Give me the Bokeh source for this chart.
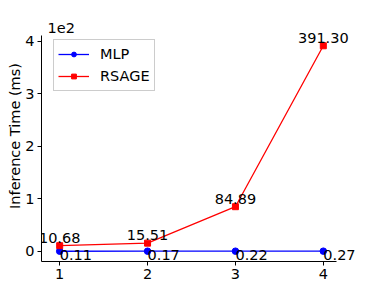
from bokeh.plotting import figure
from bokeh.models import Range1d, FixedTicker, Legend, LegendItem, ColumnDataSource, LabelSet
from bokeh.core.properties import value
from bokeh.embed import file_html
from bokeh.resources import INLINE

x_vals = [1, 2, 3, 4]
mlp = [0.11, 0.17, 0.22, 0.27]
rsage = [10.68, 15.51, 84.89, 391.30]
y_ticks = [0, 100, 200, 300, 400]
y_tick_labels = ["0", "1", "2", "3", "4"]

FONT = "DejaVu Sans"
FS = "14.5px"

# visible axes limits (matplotlib-like 5% margins)
X0, X1 = 0.85, 4.15
Y0, Y1 = -19.45, 410.86
PX_X = 290 / (X1 - X0)
PX_Y = 226 / (Y1 - Y0)
# extended plotting frame so that value labels beyond the axes are not clipped
EXT_L, EXT_R, EXT_T = 5, 34, 25
FW = 290 + EXT_L + EXT_R
FH = 226 + EXT_T
X0E = X0 - EXT_L / PX_X
X1E = X1 + EXT_R / PX_X
Y1E = Y1 + EXT_T / PX_Y

p = figure(frame_width=FW, frame_height=FH, output_backend="svg", toolbar_location=None,
           x_range=Range1d(X0E, X1E), y_range=Range1d(Y0, Y1E),
           min_border_left=41, min_border_right=0, min_border_top=10, min_border_bottom=29)
p.outline_line_color = None
p.grid.visible = False
p.background_fill_color = "white"

for ax in (p.xaxis, p.yaxis):
    ax.axis_line_color = "black"
    ax.major_tick_line_color = "black"
    ax.minor_tick_line_color = None
    ax.major_tick_out = 4
    ax.major_tick_in = 0
    ax.major_label_text_font = FONT
    ax.major_label_text_font_size = FS
    ax.major_label_text_color = "black"
    ax.major_label_standoff = 3

p.xaxis.bounds = (X0E, X1)
p.yaxis.bounds = (Y0, Y1)
p.xaxis.ticker = FixedTicker(ticks=x_vals)
p.yaxis.ticker = FixedTicker(ticks=y_ticks)
p.yaxis.major_label_overrides = {t: l for t, l in zip(y_ticks, y_tick_labels)}
p.yaxis.axis_label = "Inference Time (ms)"
p.yaxis.axis_label_text_font = FONT
p.yaxis.axis_label_text_font_size = FS
p.yaxis.axis_label_text_font_style = "normal"
p.yaxis.axis_label_text_color = "black"
p.yaxis.axis_label_standoff = -1

l1 = p.line(x_vals, mlp, line_color="blue", line_width=1.3)
m1 = p.scatter(x_vals, mlp, marker="circle", size=6.5, fill_color="blue", line_color="blue")
l2 = p.line(x_vals, rsage, line_color="red", line_width=1.3)
m2 = p.scatter(x_vals, rsage, marker="square", size=6, fill_color="red", line_color="red")

src_m = ColumnDataSource(dict(x=x_vals, y=mlp, t=[f"{v:.2f}" for v in mlp]))
src_r = ColumnDataSource(dict(x=x_vals, y=rsage, t=[f"{v:.2f}" for v in rsage]))
p.add_layout(LabelSet(x="x", y="y", text="t", source=src_m, text_align="left", text_baseline="top",
                      text_font=value(FONT), text_font_size=value(FS), text_color="black", y_offset=1))
p.add_layout(LabelSet(x="x", y="y", text="t", source=src_r, text_align="center", text_baseline="alphabetic",
                      text_font=value(FONT), text_font_size=value(FS), text_color="black", y_offset=3))

src_off = ColumnDataSource(dict(x=[X0], y=[Y1], t=["1e2"]))
p.add_layout(LabelSet(x="x", y="y", text="t", source=src_off, text_align="left", text_baseline="alphabetic",
                      text_font=value(FONT), text_font_size=value(FS), text_color="black",
                      x_offset=1, y_offset=3))

legend = Legend(items=[LegendItem(label="MLP", renderers=[l1, m1]),
                       LegendItem(label="RSAGE", renderers=[l2, m2])],
                location=(12, 170))
legend.label_text_font = FONT
legend.label_text_font_size = FS
legend.label_text_color = "black"
legend.border_line_color = "#cccccc"
legend.border_line_alpha = 1
legend.background_fill_alpha = 0.8
legend.glyph_width = 31
legend.glyph_height = 12
legend.label_height = 20
legend.label_standoff = 11
legend.padding = 4
legend.spacing = 2
legend.margin = 0
p.add_layout(legend)

open("out.html", "w").write(file_html(p, INLINE))
